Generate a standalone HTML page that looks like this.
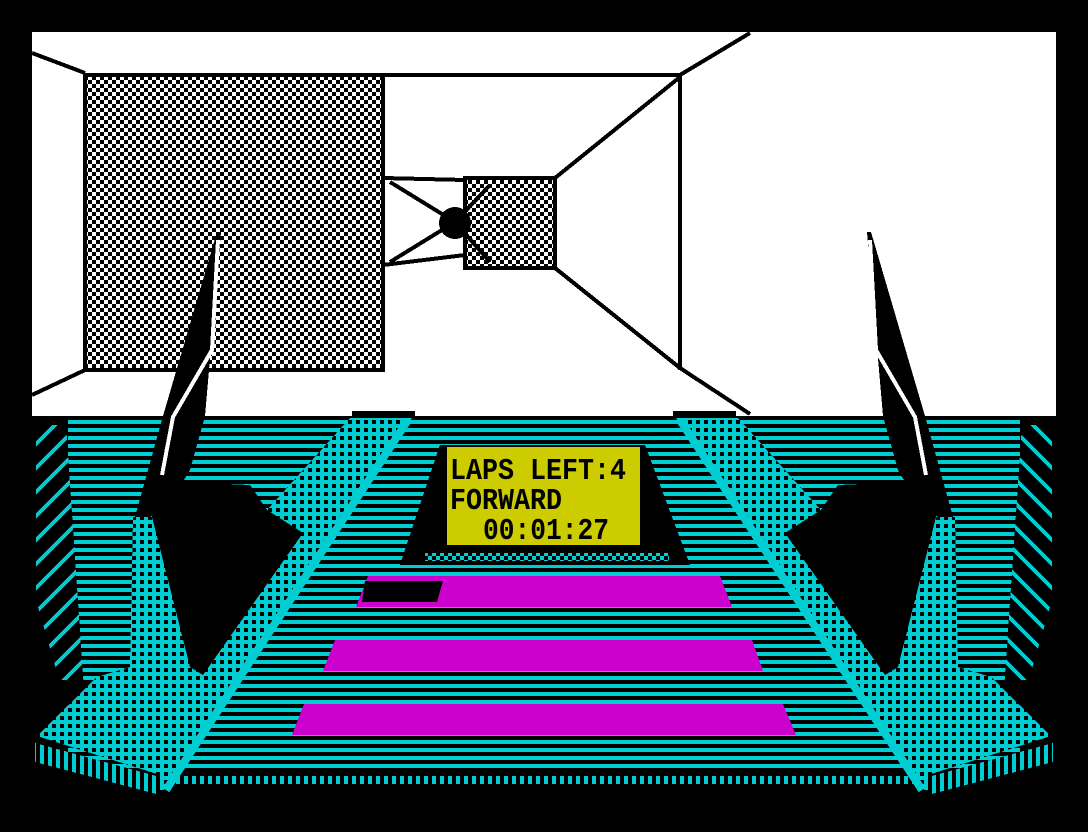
<!DOCTYPE html>
<html><head><meta charset="utf-8"><style>html,body{margin:0;padding:0;background:#000}svg{display:block}</style></head>
<body>
<svg width="1088" height="832" viewBox="0 0 1088 832" xmlns="http://www.w3.org/2000/svg" shape-rendering="crispEdges">
<defs>
<pattern id="chk" width="8" height="8" patternUnits="userSpaceOnUse"><rect width="8" height="8" fill="#fff"/><rect width="4" height="4" fill="#000"/><rect x="4" y="4" width="4" height="4" fill="#000"/></pattern>
<pattern id="hs" width="8" height="8" patternUnits="userSpaceOnUse"><rect width="8" height="8" fill="#000"/><rect y="4" width="8" height="4" fill="#00cdd2"/></pattern>
<pattern id="vs" width="8" height="8" patternUnits="userSpaceOnUse"><rect width="8" height="8" fill="#000"/><rect x="0" width="4" height="8" fill="#00cdd2"/></pattern>
<pattern id="dots" width="8" height="8" patternUnits="userSpaceOnUse"><rect width="8" height="8" fill="#00cdd2"/><rect x="4" y="4" width="4" height="4" fill="#000"/></pattern>
<pattern id="cchk" width="8" height="8" patternUnits="userSpaceOnUse"><rect width="8" height="8" fill="#000"/><rect width="4" height="4" fill="#00cdd2"/><rect x="4" y="4" width="4" height="4" fill="#00cdd2"/></pattern>
<pattern id="dg" width="24" height="24" patternUnits="userSpaceOnUse"><rect width="24" height="24" fill="#000"/><path d="M0 24 L24 0 M-6 6 L6 -6 M18 30 L30 18" stroke="#00cdd2" stroke-width="4"/></pattern>
</defs>
<rect width="1088" height="832" fill="#000"/>
<!-- top scene -->
<rect x="32" y="32" width="1024" height="384" fill="#fff"/>
<rect x="85" y="75" width="298" height="295" fill="url(#chk)" stroke="#000" stroke-width="4"/>
<rect x="465" y="178" width="90" height="90" fill="url(#chk)" stroke="#000" stroke-width="4"/>
<g stroke="#000" stroke-width="4" fill="none">
<line x1="32" y1="53" x2="85" y2="73"/>
<line x1="32" y1="395" x2="85" y2="370"/>
<line x1="383" y1="75" x2="680" y2="75"/>
<line x1="680" y1="73" x2="680" y2="370"/>
<line x1="680" y1="75" x2="750" y2="33"/>
<line x1="680" y1="368" x2="750" y2="414"/>
<line x1="680" y1="77" x2="555" y2="178"/>
<line x1="680" y1="368" x2="555" y2="268"/>
<line x1="383" y1="178" x2="465" y2="180"/>
<line x1="383" y1="265" x2="465" y2="255"/>
<line x1="390" y1="182" x2="455" y2="222"/>
<line x1="390" y1="262" x2="455" y2="222"/>
<line x1="455" y1="222" x2="490" y2="185"/>
<line x1="455" y1="222" x2="490" y2="262"/>
</g>
<circle cx="455" cy="223" r="16" fill="#000"/>
<!-- bottom -->
<rect x="68" y="420" width="952" height="352" fill="url(#hs)"/>
<rect x="352" y="411" width="63" height="6" fill="#000"/>
<rect x="673" y="411" width="63" height="6" fill="#000"/>
<polygon points="440,445 645,445 690,565 400,565" fill="#000"/>
<rect x="425" y="553" width="244" height="8" fill="url(#cchk)"/>
<rect x="447" y="447" width="193" height="98" fill="#cccc00"/>
<g font-family="Liberation Mono, monospace" font-weight="bold" font-size="31" fill="#000">
<text x="450" y="479" textLength="176" lengthAdjust="spacingAndGlyphs">LAPS LEFT:4</text>
<text x="450" y="509" textLength="112" lengthAdjust="spacingAndGlyphs">FORWARD</text>
<text x="483" y="539" textLength="126" lengthAdjust="spacingAndGlyphs">00:01:27</text>
</g>
<g fill="#cc00cc">
<polygon points="368,576 720,576 732,607 356,607"/>
<polygon points="335,640 752,640 763,671 323,671"/>
<polygon points="304,704 783,704 796,735 292,735"/>
</g>
<polygon points="365,581 443,581 437,602 362,602" fill="#000"/>
<rect x="172" y="776" width="744" height="8" fill="url(#vs)"/>
<g id="side">
<polygon points="36,425 66,425 84,690 62,690 36,600" fill="url(#dg)"/>
<polygon points="35,680 100,680 100,740 35,740" fill="#000"/>
<polygon points="150,500 175,482 250,485 267,510 303,533 203,675 190,667 152,517" fill="#000"/>
<polygon points="350,418 412,418 170,790 160,790 160,775 40,737 40,733 97,677 130,667 133,517 152,517 190,667 203,675 303,533 267,510" fill="url(#dots)"/>
<line x1="408" y1="420" x2="166" y2="790" stroke="#00cdd2" stroke-width="8"/>
<polygon points="35,743 160,777 160,795 35,762" fill="url(#vs)"/>
<polygon points="217,232 221,232 205,416 190,470 175,495 150,517 135,517 163,416" fill="#000"/>
<polyline points="218,240 212,350 173,417 162,475" fill="none" stroke="#fff" stroke-width="4"/>
</g>
<use href="#side" transform="translate(1088,0) scale(-1,1)"/>
</svg>
</body></html>
